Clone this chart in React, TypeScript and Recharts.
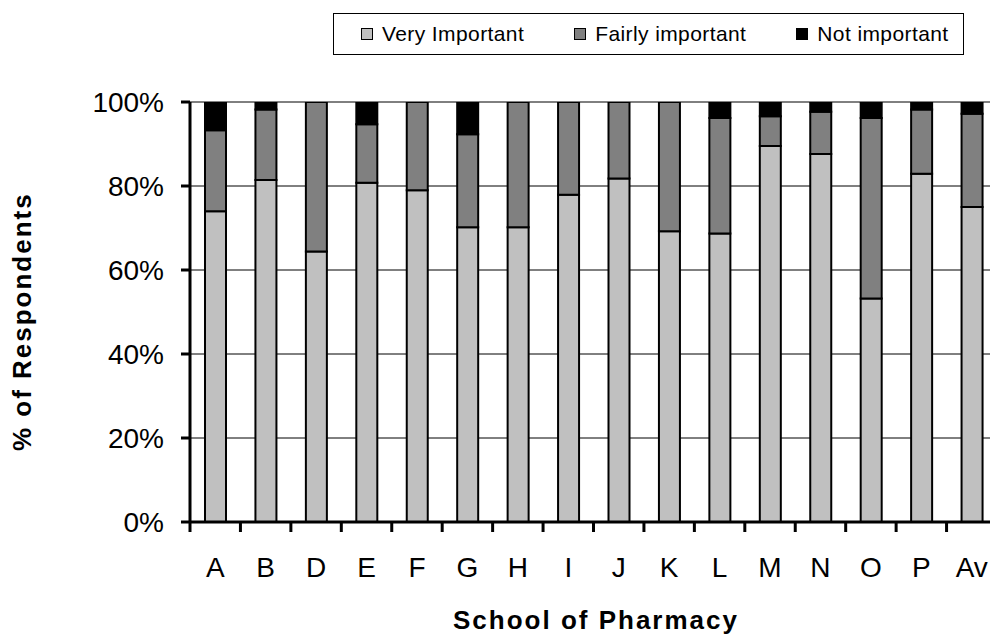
import { BarChart, Bar, XAxis, YAxis, CartesianGrid, Label } from 'recharts';

const schools = ['A', 'B', 'D', 'E', 'F', 'G', 'H', 'I', 'J', 'K', 'L', 'M', 'N', 'O', 'P', 'Av'];
const veryImportant = [74.0, 81.4, 64.4, 80.8, 79.0, 70.2, 70.2, 77.9, 81.8, 69.2, 68.7, 89.5, 87.6, 53.2, 82.9, 75.0];
const fairlyImportant = [19.3, 16.8, 35.6, 13.9, 21.0, 22.1, 29.8, 22.1, 18.2, 30.8, 27.5, 7.1, 10.1, 43.0, 15.3, 22.2];
const notImportant = [6.7, 1.8, 0, 5.3, 0, 7.7, 0, 0, 0, 0, 3.8, 3.4, 2.3, 3.8, 1.8, 2.8];
const yTicks = [0, 20, 40, 60, 80, 100];

const series = [
  { key: 'very', name: 'Very Important', color: '#C0C0C0' },
  { key: 'fairly', name: 'Fairly important', color: '#808080' },
  { key: 'not', name: 'Not important', color: '#000000' },
];

const data = schools.map((school, i) => ({
  school,
  very: veryImportant[i],
  fairly: fairlyImportant[i],
  not: notImportant[i],
}));

const FONT = '"Liberation Sans", Arial, Helvetica, sans-serif';
const X_TICK_SIZE = 10;
const X_TICK_MARGIN = 25;

// category labels, plus the Excel-style tick marks between categories
function SchoolTick(props: any) {
  const { x, y, payload } = props;
  const half = payload && typeof payload.offset === 'number' ? payload.offset : 25.2;
  const axisY = y - X_TICK_SIZE - X_TICK_MARGIN;
  return (
    <g>
      <line x1={x - half} x2={x - half} y1={axisY} y2={axisY + X_TICK_SIZE} stroke="#000" strokeWidth={3} />
      <text x={x} y={y + 20} textAnchor="middle" fontSize={28} fontFamily={FONT} fill="#000">
        {payload.value}
      </text>
    </g>
  );
}

function YTitle(props: any) {
  const vb = props.viewBox || { x: 0, y: 102, width: 190, height: 420 };
  const cx = vb.x + 31.5;
  const cy = vb.y + vb.height / 2 + 9.7;
  return (
    <text
      x={cx}
      y={cy}
      transform={`rotate(-90 ${cx} ${cy})`}
      textAnchor="middle"
      fontSize={26}
      fontWeight="bold"
      fontFamily={FONT}
      letterSpacing={2}
      fill="#000"
    >
      % of Respondents
    </text>
  );
}

function XTitle(props: any) {
  const vb = props.viewBox || { x: 190, y: 522, width: 807, height: 100 };
  return (
    <text
      x={vb.x + vb.width / 2 + 2.5}
      y={vb.y + 107}
      textAnchor="middle"
      fontSize={26}
      fontWeight="bold"
      fontFamily={FONT}
      letterSpacing={2}
      fill="#000"
    >
      School of Pharmacy
    </text>
  );
}

function LegendBox() {
  return (
    <div
      style={{
        position: 'absolute',
        left: 333,
        top: 13,
        width: 631,
        height: 42,
        boxSizing: 'border-box',
        border: '1px solid #000',
        background: '#fff',
        display: 'flex',
        alignItems: 'center',
        paddingLeft: 27,
        gap: 50,
        fontFamily: FONT,
        fontSize: 21,
        letterSpacing: 0.4,
        color: '#000',
      }}
    >
      {series.map((s) => (
        <div key={s.key} style={{ display: 'flex', alignItems: 'center' }}>
          <span
            style={{
              display: 'inline-block',
              width: 12,
              height: 12,
              boxSizing: 'border-box',
              border: '1.5px solid #000',
              background: s.color,
              marginRight: 9,
            }}
          />
          <span>{s.name}</span>
        </div>
      ))}
    </div>
  );
}

export default function App() {
  return (
    <div
      style={{
        position: 'fixed',
        left: 0,
        top: 0,
        width: 990,
        height: 637,
        overflow: 'hidden',
        background: '#fff',
      }}
    >
      <BarChart
        width={1010}
        height={637}
        data={data}
        margin={{ top: 102, right: 13, bottom: 15, left: 0 }}
      >
        <CartesianGrid vertical={false} stroke="#000" strokeWidth={1} />
        <XAxis
          dataKey="school"
          height={100}
          tickSize={X_TICK_SIZE}
          tickMargin={X_TICK_MARGIN}
          tickLine={false}
          axisLine={{ stroke: '#000', strokeWidth: 3 }}
          tick={<SchoolTick />}
          interval={0}
        >
          <Label content={<XTitle />} />
        </XAxis>
        <YAxis
          width={190}
          domain={[0, 100]}
          ticks={yTicks}
          tickFormatter={(v: number) => `${v}%`}
          tickSize={9}
          tickMargin={17}
          axisLine={{ stroke: '#000', strokeWidth: 3 }}
          tickLine={{ stroke: '#000', strokeWidth: 3 }}
          tick={{ fill: '#000', fontSize: 28, fontFamily: FONT }}
          allowDataOverflow
        >
          <Label content={<YTitle />} />
        </YAxis>
        {series.map((s) => (
          <Bar
            key={s.key}
            dataKey={s.key}
            name={s.name}
            stackId="pct"
            fill={s.color}
            stroke="#000"
            strokeWidth={2}
            barSize={21}
            isAnimationActive={false}
          />
        ))}
      </BarChart>
      <LegendBox />
    </div>
  );
}
